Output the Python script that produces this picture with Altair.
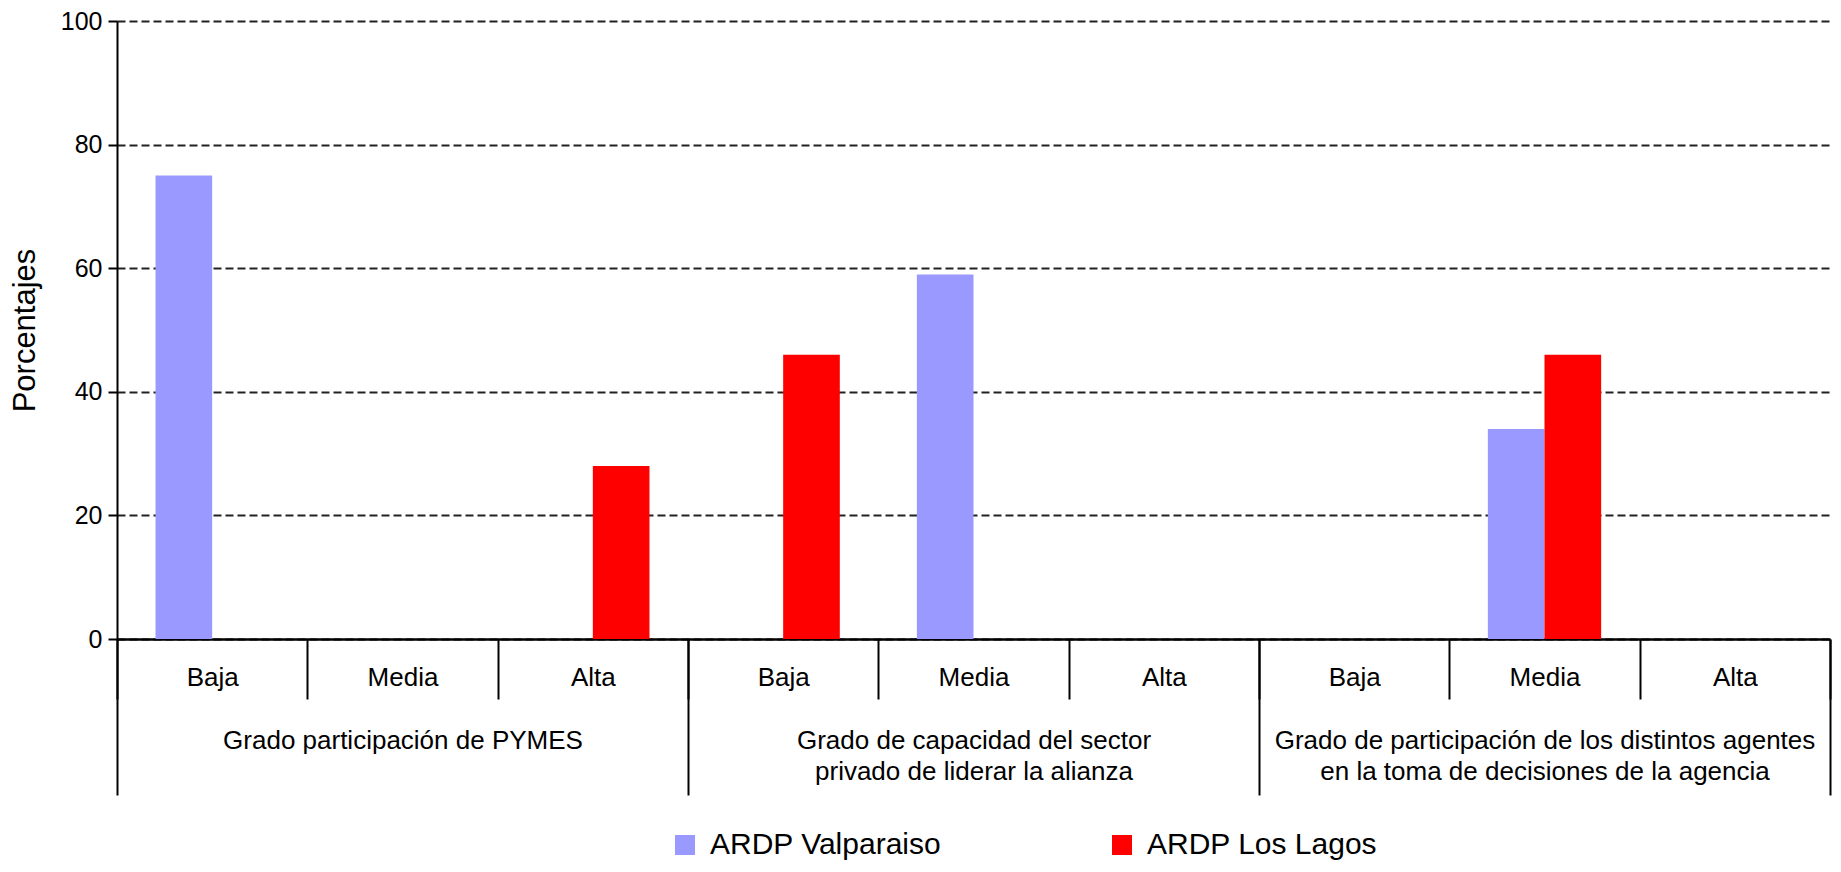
import altair as alt
import pandas as pd

# --- data ---
groups = [
    "Grado participación de PYMES",
    "Grado de capacidad del sector|privado de liderar la alianza",
    "Grado de participación de los distintos agentes|en la toma de decisiones de la agencia",
]
levels = ["Baja", "Media", "Alta"]
series = ["ARDP Valparaiso", "ARDP Los Lagos"]
colors = ["#9999FF", "#FF0000"]

# values per (group, level) for each series
valparaiso = [75, 0, 0, 0, 59, 0, 0, 34, 0]
los_lagos = [0, 0, 28, 46, 0, 0, 0, 46, 0]

cat_keys = [f"{gi}|{lv}" for gi in range(len(groups)) for lv in levels]

rows = []
for k, v in zip(cat_keys, valparaiso):
    if v > 0:
        rows.append({"cat": k, "serie": series[0], "valor": v})
for k, v in zip(cat_keys, los_lagos):
    if v > 0:
        rows.append({"cat": k, "serie": series[1], "valor": v})
df = pd.DataFrame(rows)
gdf = pd.DataFrame({"grupo": groups})

FONT = "Liberation Sans"

bars = alt.Chart(df).mark_bar().encode(
    x=alt.X(
        "cat:N",
        sort=cat_keys,
        scale=alt.Scale(domain=cat_keys, paddingInner=0, paddingOuter=0),
        axis=alt.Axis(
            title=None,
            orient="bottom",
            labelExpr="split(datum.label, '|')[1]",
            labelAngle=0,
            labelFontSize=26,
            labelColor="#000",
            labelLimit=0,
            labelPadding=-35,
            labelBaseline="top",
            tickBand="extent",
            tickSize=60,
            tickColor="#000",
            tickWidth=2,
            domainColor="#000",
            domainWidth=2.5,
            grid=False,
        ),
    ),
    xOffset=alt.XOffset(
        "serie:N",
        scale=alt.Scale(domain=series, paddingInner=0, paddingOuter=0.68),
    ),
    y=alt.Y(
        "valor:Q",
        scale=alt.Scale(domain=[0, 100], nice=False),
        axis=alt.Axis(
            title="Porcentajes",
            values=[0, 20, 40, 60, 80, 100],
            labelFontSize=25,
            labelColor="#000",
            labelPadding=6,
            tickSize=9,
            tickColor="#000",
            tickWidth=2,
            domainColor="#000",
            domainWidth=2,
            grid=True,
            gridDash=[8, 4],
            gridColor="#222",
            gridWidth=2,
            titleFontSize=31,
            titleFontWeight="normal",
            titleColor="#000",
            titleAngle=270,
            titleX=-92,
            titleY=309,
            titleAlign="center",
            titleBaseline="middle",
        ),
    ),
    color=alt.Color(
        "serie:N",
        scale=alt.Scale(domain=series, range=colors),
        legend=alt.Legend(
            title=None,
            orient="none",
            direction="horizontal",
            legendX=553,
            legendY=809,
            symbolType="square",
            symbolSize=400,
            symbolStrokeWidth=0,
            labelFontSize=30,
            labelColor="#000",
            labelLimit=0,
            labelOffset=10,
            columnPadding=165,
            padding=0,
        ),
    ),
)

group_axis = alt.Chart(gdf).mark_rule(opacity=0).encode(
    x=alt.X(
        "grupo:N",
        sort=groups,
        scale=alt.Scale(domain=groups, paddingInner=0, paddingOuter=0),
        axis=alt.Axis(
            title=None,
            orient="bottom",
            labelExpr="split(datum.label, '|')",
            labelAngle=0,
            labelFontSize=26,
            labelColor="#000",
            labelLimit=0,
            labelLineHeight=31,
            labelPadding=-68,
            labelBaseline="top",
            tickBand="extent",
            tickSize=156,
            tickColor="#000",
            tickWidth=2,
            domain=False,
            grid=False,
        ),
    ),
)

chart = (
    alt.layer(bars, group_axis)
    .resolve_scale(x="independent")
    .properties(
        width=1713,
        height=618,
        autosize=alt.AutoSizeParams(type="none"),
        padding={"left": 109, "top": 13, "right": 3, "bottom": 223},
    )
    .configure(font=FONT)
    .configure_view(stroke=None)
)

chart.save("out.html", embed_options={"renderer": "svg", "actions": False})
